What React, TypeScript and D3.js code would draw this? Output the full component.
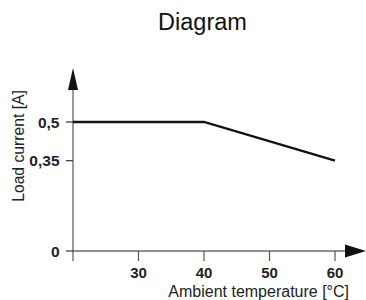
import React from "react";
import * as d3 from "d3";

const temps = [20, 40, 60];
const currents = [0.5, 0.5, 0.35];
const xTicks = [30, 40, 50, 60];
const yTicks = [0, 0.35, 0.5];
const yTickLabels = ["0", "0,35", "0,5"];
const title = "Diagram";
const xTitle = "Ambient temperature [°C]";
const yTitle = "Load current [A]";

export default function App() {
  const W = 366, H = 300;
  const x = d3.scaleLinear().domain([20, 60]).range([73, 335]);
  const y = d3.scaleLinear().domain([0, 0.5]).range([251, 122]);
  const line = d3.line<number>().x((_, i) => x(temps[i])).y((d) => y(d));
  const font = "'Liberation Sans', Arial, sans-serif";
  const x0 = x(20), y0 = y(0);
  return (
    <svg width={W} height={H} style={{ position: "absolute", left: 0, top: 0, background: "#fff" }} fontFamily={font}>
      <text x={202.5} y={30} textAnchor="middle" fontSize={23.5} fill="#111">{title}</text>
      {/* y axis */}
      <line x1={x0} x2={x0} y1={88} y2={261} stroke="#555" strokeWidth={1.2} />
      <path d={`M${x0},68 L${x0 - 5},90 L${x0 + 5},90 Z`} fill="#111" />
      {/* x axis */}
      <line x1={x0} x2={347} y1={y0} y2={y0} stroke="#222" strokeWidth={1.2} />
      <path d={`M366,${y0} L345,${y0 - 6.5} L345,${y0 + 6.5} Z`} fill="#111" />
      {yTicks.map((t, i) => (
        <g key={"y" + t}>
          <line x1={66} x2={x0} y1={y(t)} y2={y(t)} stroke="#333" strokeWidth={1.2} />
          <text x={59.5} y={y(t)} dy="0.36em" textAnchor="end" fontSize={15.5} fontWeight="bold" fill="#222">{yTickLabels[i]}</text>
        </g>
      ))}
      {xTicks.map((t) => (
        <g key={"x" + t}>
          <line x1={x(t)} x2={x(t)} y1={y0} y2={261} stroke="#555" strokeWidth={1.2} />
          <text x={x(t)} y={278} textAnchor="middle" fontSize={15} fontWeight="bold" fill="#222">{t}</text>
        </g>
      ))}
      <path d={line(currents) || ""} fill="none" stroke="#111" strokeWidth={2.3} />
      <text x={349} y={297} textAnchor="end" fontSize={16} fill="#222">{xTitle}</text>
      <text transform="translate(23.5,146) rotate(-90)" textAnchor="middle" fontSize={15.7} fill="#222">{yTitle}</text>
    </svg>
  );
}
